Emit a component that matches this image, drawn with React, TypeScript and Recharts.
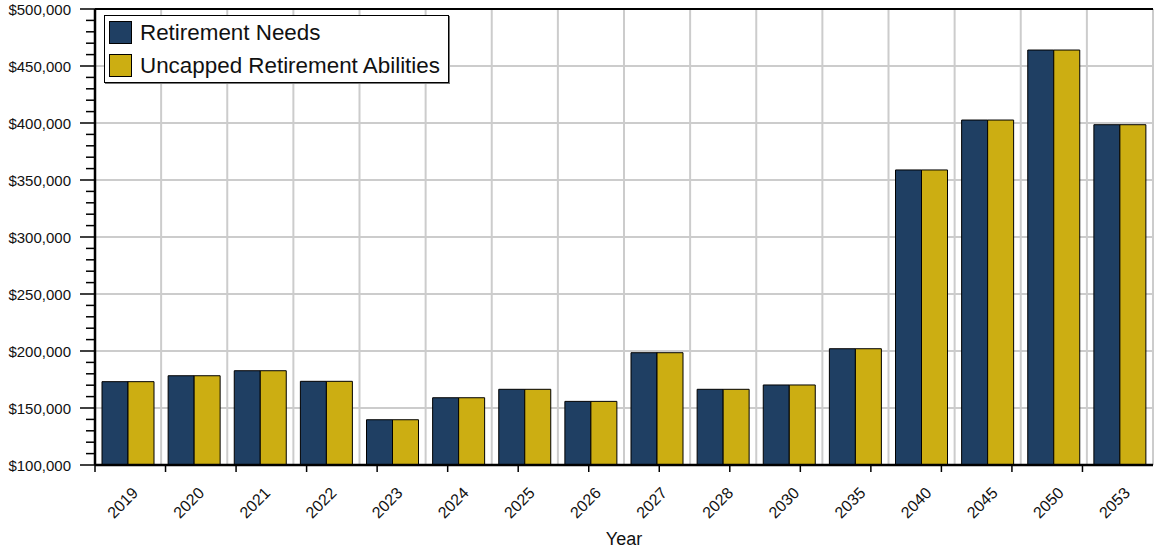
import { BarChart, Bar, XAxis, YAxis, CartesianGrid, Legend, ReferenceLine } from "recharts"

const years = ["2019", "2020", "2021", "2022", "2023", "2024", "2025", "2026", "2027", "2028", "2030", "2035", "2040", "2045", "2050", "2053"]
const retirementNeeds = [173100, 178300, 182700, 173400, 139700, 159000, 166400, 155800, 198500, 166400, 170200, 202000, 358800, 402600, 464000, 398500]
const uncappedAbilities = [173100, 178300, 182700, 173400, 139700, 159000, 166400, 155800, 198500, 166400, 170200, 202000, 358800, 402600, 464000, 398500]

const majorTicks = [100000, 150000, 200000, 250000, 300000, 350000, 400000, 450000, 500000]
const minorTicks = Array.from({ length: 41 }, (_, i) => 100000 + i * 10000)
const boundaries = Array.from({ length: years.length + 1 }, (_, i) => i)

const data = years.map((year, i) => ({
  year,
  needs: retirementNeeds[i],
  abilities: uncappedAbilities[i],
}))

const font = "'Liberation Sans', Arial, sans-serif"
const NAVY = "#1f3f63"
const GOLD = "#ccae12"

function YTick(props: any) {
  const { x, y, payload } = props
  const major = payload.value % 50000 === 0
  return (
    <g>
      <line x1={x + (major ? 8 : 14)} x2={x + 23} y1={y} y2={y} stroke="#000" strokeWidth={1.5} />
      {major && (
        <text x={x - 1} y={y} dy={5.5} textAnchor="end" fontFamily={font} fontSize={15} fill="#111">
          {"$" + payload.value.toLocaleString("en-US")}
        </text>
      )}
    </g>
  )
}

function XTick(props: any) {
  const { x, y, payload } = props
  const px = x + 11
  const py = y + 20
  return (
    <text x={px} y={py} textAnchor="end" transform={`rotate(-45, ${px}, ${py})`} fontFamily={font} fontSize={16} fill="#111">
      {payload.value}
    </text>
  )
}

function NoTick() {
  return null
}

function LegendBox(props: any) {
  const items = props.payload || []
  return (
    <div
      style={{
        background: "#fff",
        border: "1px solid #000",
        boxShadow: "1px 1px 0 #777",
        padding: "0 8px 0 4px",
        fontFamily: font,
        fontSize: 22.4,
        color: "#111",
      }}
    >
      {items.map((it: any) => (
        <div key={it.value} style={{ display: "flex", alignItems: "center", height: 33 }}>
          <span
            style={{
              display: "inline-block",
              width: 21,
              height: 21,
              background: it.color,
              border: "1px solid #000",
              marginRight: 8,
            }}
          />
          {it.value}
        </div>
      ))}
    </div>
  )
}

export default function App() {
  return (
    <div style={{ position: "absolute", left: 0, top: 0 }}>
      <BarChart
        width={1157}
        height={550}
        data={data}
        margin={{ top: 9, right: 4, bottom: 0, left: 0 }}
        barGap={0}
        barCategoryGap={7}
      >
        <CartesianGrid
          stroke="#cccccc"
          strokeWidth={2}
          horizontalValues={majorTicks}
          verticalCoordinatesGenerator={({ offset }: any) =>
            boundaries.map((b) => offset.left + (b * offset.width) / years.length)
          }
        />
        <XAxis
          xAxisId="a-grid"
          type="number"
          domain={[0, years.length]}
          ticks={boundaries}
          allowDataOverflow
          height={1}
          tick={<NoTick />}
          tickSize={7}
          tickLine={{ stroke: "#000", strokeWidth: 1.5 }}
          axisLine={{ stroke: "#000", strokeWidth: 2.5 }}
        />
        <XAxis
          xAxisId="b-years"
          dataKey="year"
          height={84}
          tickLine={false}
          axisLine={false}
          interval={0}
          tick={<XTick />}
          label={{ value: "Year", position: "insideBottom", offset: 5, fontFamily: font, fontSize: 18, fill: "#111" }}
        />
        <YAxis
          width={95}
          domain={[100000, 500000]}
          ticks={minorTicks}
          interval={0}
          allowDataOverflow
          tickLine={false}
          tickSize={15}
          tickMargin={8}
          tick={<YTick />}
          axisLine={{ stroke: "#000", strokeWidth: 2.5 }}
        />
        <ReferenceLine y={500000} stroke="#000" strokeWidth={2} />
        <ReferenceLine xAxisId="a-grid" x={years.length} stroke="#000" strokeWidth={2} />
        <Legend
          layout="horizontal"
          verticalAlign="middle"
          align="center"
          wrapperStyle={{ left: 104, top: 15, width: "auto" }}
          content={<LegendBox />}
        />
        <Bar xAxisId="b-years" dataKey="needs" name="Retirement Needs" fill={NAVY} stroke="#000" strokeWidth={1} isAnimationActive={false} />
        <Bar xAxisId="b-years" dataKey="abilities" name="Uncapped Retirement Abilities" fill={GOLD} stroke="#000" strokeWidth={1} isAnimationActive={false} />
      </BarChart>
    </div>
  )
}
